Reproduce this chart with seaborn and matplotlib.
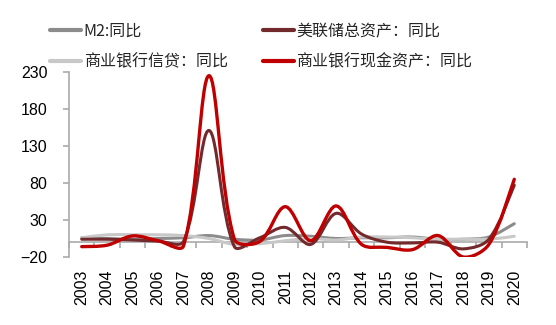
import numpy as np
import pandas as pd
import matplotlib
matplotlib.use("Agg")
import matplotlib.pyplot as plt
import seaborn as sns
from matplotlib.path import Path
from matplotlib.patches import PathPatch
from matplotlib.lines import Line2D

years = [str(y) for y in range(2003, 2021)]
m2 = [6, 5, 4, 5, 6, 9, 4, 3, 9, 8, 5, 6, 6, 7, 4, 4, 7, 25]
fed = [4, 4, 3, 1.5, 1, 151, -6, 6, 20, -3, 39, 11, 0, -1, 0, -9, 4, 77]
credit = [6, 10, 10, 10, 9, 5, -3, -2, 2, 5, 3, 7, 7, 6, 4, 4, 4, 8]
cash = [-6, -4, 8.5, 2, -5, 225, 4, 1, 48, 2, 49, -3, -7, -10, 9, -20, -3, 85]

names = ["M2:同比", "商业银行信贷：同比", "美联储总资产：同比", "商业银行现金资产：同比"]
series = [m2, credit, fed, cash]
colors = ["#8c8c8c", "#c8c8c8", "#722a2d", "#c00000"]
widths = [2.2, 2.2, 2.2, 2.4]

sns.set_theme(style="white")
plt.rcParams["font.family"] = ["Liberation Sans", "Noto Sans CJK SC", "DejaVu Sans"]

W, H = 556, 325
L, R, T, B = 69, 527, 72, 257
fig = plt.figure(figsize=(W / 100, H / 100), dpi=100)
ax = fig.add_axes([L / W, 1 - B / H, (R - L) / W, (B - T) / H])

pos = np.arange(len(years))
df = pd.concat([pd.DataFrame({"pos": pos, "value": s, "series": n}) for n, s in zip(names, series)])
sns.lineplot(data=df, x="pos", y="value", hue="series", palette=dict(zip(names, colors)),
             linewidth=0, legend=False, ax=ax)

XMIN, XMAX, YMIN, YMAX = -0.5, 17.5, -20, 230
sx = (R - L) / (XMAX - XMIN)   # px per category
sy = (B - T) / (YMAX - YMIN)   # px per unit


def smooth_path(xs, ys):
    """Excel-style smoothed line: Bezier segments with length-weighted tangents."""
    pts = np.column_stack([xs, ys]).astype(float)
    scale = np.array([sx, sy])
    n = len(pts)

    def dist(a, b):
        return np.hypot(*((b - a) * scale))

    verts = [pts[0]]
    codes = [Path.MOVETO]
    for i in range(n - 1):
        p0 = pts[i - 1] if i > 0 else pts[i]
        p1 = pts[i]
        p2 = pts[i + 1]
        p3 = pts[i + 2] if i + 2 < n else pts[i + 1]
        d01, d12, d23 = dist(p0, p1), dist(p1, p2), dist(p2, p3)
        f1 = d12 / (d01 + d12) / 3 if d01 + d12 > 0 else 0
        f2 = d12 / (d12 + d23) / 3 if d12 + d23 > 0 else 0
        if i == 0:
            f1 = 1 / 6
        if i + 2 >= n:
            f2 = 1 / 6
        verts += [p1 + (p2 - p0) * f1, p2 - (p3 - p1) * f2, p2]
        codes += [Path.CURVE4] * 3
    return Path(verts, codes)


for i, (s, c, w) in enumerate(zip(series, colors, widths)):
    ax.add_patch(PathPatch(smooth_path(pos, s), facecolor="none", edgecolor=c,
                           linewidth=w, zorder=3 + i, capstyle="round", joinstyle="round"))

ax.set_xlim(XMIN, XMAX)
ax.set_ylim(YMIN, YMAX)
ax.set_yticks(range(-20, 231, 50))
ax.set_xticks(pos)
ax.set_xticklabels(years)
ax.set_xticks(np.arange(-0.5, 18, 1), minor=True)
ax.set_xlabel("")
ax.set_ylabel("")

spine_c = "#aaaaaa"
for sp in ["top", "right"]:
    ax.spines[sp].set_visible(False)
ax.spines["bottom"].set_position(("data", 0))
ax.spines["bottom"].set_color(spine_c)
ax.spines["left"].set_color(spine_c)
ax.spines["bottom"].set_linewidth(1.2)
ax.spines["left"].set_linewidth(1.2)

ax.tick_params(axis="x", which="major", length=0, pad=19.5, labelsize=11.5,
               labelcolor="black", labelrotation=90)
ax.tick_params(axis="x", which="minor", length=4.5, width=1.2, color=spine_c, direction="out", bottom=True)
ax.tick_params(axis="y", which="major", length=4.5, width=1.2, color=spine_c, direction="out",
               left=True, pad=11, labelsize=11.5, labelcolor="black")

handles = [Line2D([], [], color=c, linewidth=3) for c in colors]
leg = fig.legend(handles, names, loc="upper left", bbox_to_anchor=(50 / W, 1 - 23 / H),
                 ncol=2, frameon=False, borderpad=0, borderaxespad=0,
                 handlelength=1.95, handletextpad=0.15, columnspacing=2.2, labelspacing=0.85,
                 prop={"family": ["Noto Sans CJK SC", "DejaVu Sans"], "size": 11.5})

fig.savefig("out.png", dpi=100)
